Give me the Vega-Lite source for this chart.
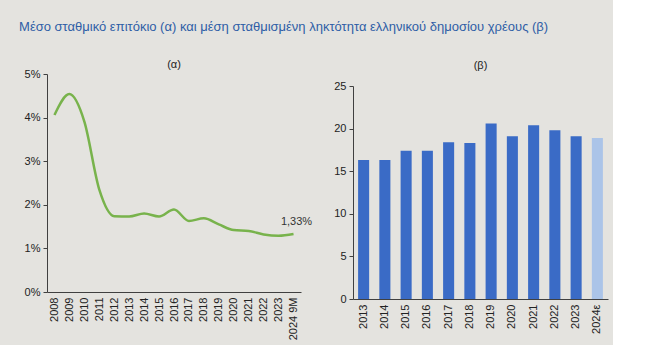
{
  "$schema": "https://vega.github.io/schema/vega-lite/v6.json",
  "background": "#e4e3df",
  "padding": {"left": 19, "top": 21, "right": 5, "bottom": 5},
  "title": {
    "text": "Μέσο σταθμικό επιτόκιο (α) και μέση σταθμισμένη ληκτότητα ελληνικού δημοσίου χρέους (β)",
    "anchor": "start",
    "frame": "bounds",
    "dx": -5,
    "fontSize": 13,
    "font": "Liberation Sans",
    "fontWeight": "normal",
    "color": "#2f5ea6",
    "offset": 25
  },
  "config": {
    "view": {"stroke": null},
    "font": "Liberation Sans",
    "axis": {
      "grid": false,
      "title": null,
      "domainColor": "#404040",
      "tickColor": "#404040",
      "labelColor": "#222222",
      "labelFontSize": 11,
      "labelFont": "Liberation Sans",
      "tickSize": 4,
      "labelPadding": 3
    }
  },
  "spacing": 20,
  "datasets": {
    "rate": [
      {"period": "2008", "rate": 4.06},
      {"period": "2009", "rate": 4.54},
      {"period": "2010", "rate": 3.91},
      {"period": "2011", "rate": 2.35},
      {"period": "2012", "rate": 1.74},
      {"period": "2013", "rate": 1.73},
      {"period": "2014", "rate": 1.80},
      {"period": "2015", "rate": 1.73},
      {"period": "2016", "rate": 1.89},
      {"period": "2017", "rate": 1.63},
      {"period": "2018", "rate": 1.69},
      {"period": "2019", "rate": 1.55},
      {"period": "2020", "rate": 1.42},
      {"period": "2021", "rate": 1.40},
      {"period": "2022", "rate": 1.32},
      {"period": "2023", "rate": 1.29},
      {"period": "2024 9M", "rate": 1.33}
    ],
    "maturity": [
      {"year": "2013", "years": 16.3, "kind": "actual"},
      {"year": "2014", "years": 16.3, "kind": "actual"},
      {"year": "2015", "years": 17.4, "kind": "actual"},
      {"year": "2016", "years": 17.4, "kind": "actual"},
      {"year": "2017", "years": 18.4, "kind": "actual"},
      {"year": "2018", "years": 18.3, "kind": "actual"},
      {"year": "2019", "years": 20.6, "kind": "actual"},
      {"year": "2020", "years": 19.1, "kind": "actual"},
      {"year": "2021", "years": 20.4, "kind": "actual"},
      {"year": "2022", "years": 19.8, "kind": "actual"},
      {"year": "2023", "years": 19.1, "kind": "actual"},
      {"year": "2024ε", "years": 18.9, "kind": "estimate"}
    ]
  },
  "hconcat": [
    {
      "width": 254,
      "height": 218,
      "title": {"text": "(α)", "fontSize": 11, "fontWeight": "normal", "color": "#222222", "offset": -2},
      "data": {"name": "rate"},
      "encoding": {
        "x": {
          "field": "period",
          "type": "ordinal",
          "sort": null,
          "scale": {"type": "point", "padding": 0.5},
          "axis": {"labelAngle": -90, "ticks": false, "labelPadding": 5, "labelAlign": "right", "labelBaseline": "middle"}
        },
        "y": {
          "field": "rate",
          "type": "quantitative",
          "scale": {"domain": [0, 5]},
          "axis": {"values": [0, 1, 2, 3, 4, 5], "labelExpr": "datum.value + '%'"}
        }
      },
      "layer": [
        {
          "mark": {"type": "line", "interpolate": "monotone", "color": "#78b34c", "strokeWidth": 2.5}
        },
        {
          "transform": [
            {"filter": "datum.period == '2024 9M'"},
            {"calculate": "replace(format(datum.rate, '.2f'), '.', ',') + '%'", "as": "lbl"}
          ],
          "mark": {"type": "text", "dy": -12, "dx": 3, "fontSize": 11, "color": "#333333"},
          "encoding": {"text": {"field": "lbl"}}
        }
      ]
    },
    {
      "width": 255,
      "height": 225,
      "title": {"text": "(β)", "fontSize": 11, "fontWeight": "normal", "color": "#222222", "offset": 3},
      "data": {"name": "maturity"},
      "mark": {"type": "bar"},
      "encoding": {
        "x": {
          "field": "year",
          "type": "ordinal",
          "sort": null,
          "scale": {"paddingInner": 0.48, "paddingOuter": 0.24},
          "axis": {"labelAngle": -90, "ticks": false, "labelPadding": 5, "labelAlign": "right", "labelBaseline": "middle"}
        },
        "y": {
          "field": "years",
          "type": "quantitative",
          "scale": {"domain": [0, 25], "range": [225, 12]},
          "axis": {"values": [0, 5, 10, 15, 20, 25]}
        },
        "color": {
          "field": "kind",
          "type": "nominal",
          "scale": {"domain": ["actual", "estimate"], "range": ["#3a6bc6", "#abc4e8"]},
          "legend": null
        }
      }
    }
  ]
}
